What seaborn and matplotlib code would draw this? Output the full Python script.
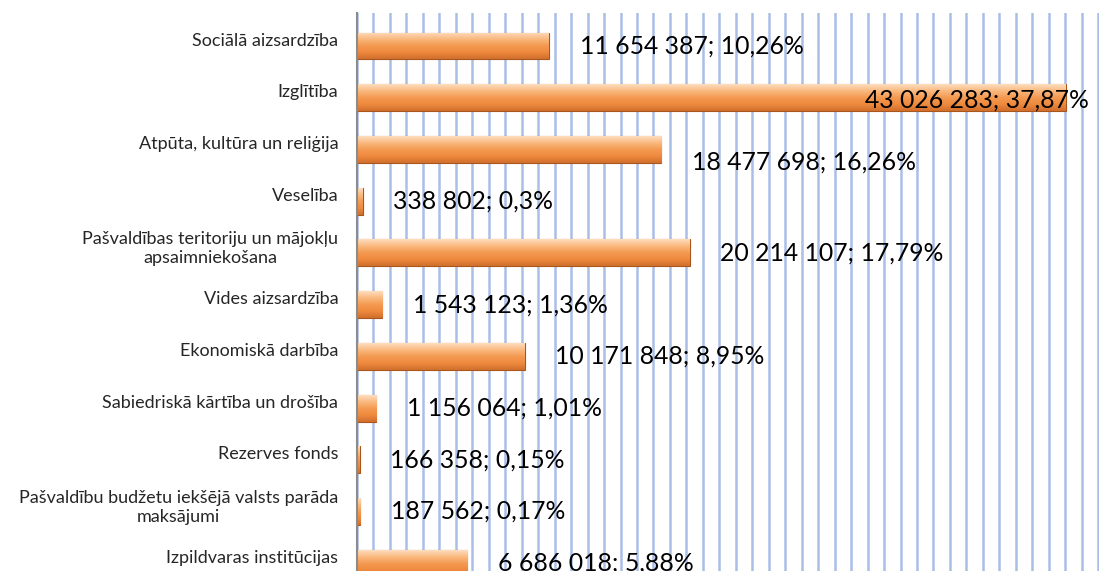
import matplotlib
matplotlib.use("Agg")
import matplotlib.pyplot as plt
import matplotlib.transforms as mtrans
import seaborn as sns
import numpy as np
import pandas as pd
from matplotlib.ticker import MultipleLocator
from matplotlib.colors import LinearSegmentedColormap

categories = [
    "Sociālā aizsardzība",
    "Izglītība",
    "Atpūta, kultūra un reliģija",
    "Veselība",
    "Pašvaldības teritoriju un mājokļu\napsaimniekošana",
    "Vides aizsardzība",
    "Ekonomiskā darbība",
    "Sabiedriskā kārtība un drošība",
    "Rezerves fonds",
    "Pašvaldību budžetu iekšējā valsts parāda\nmaksājumi",
    "Izpildvaras institūcijas",
]
values = [11654387, 43026283, 18477698, 338802, 20214107, 1543123,
          10171848, 1156064, 166358, 187562, 6686018]
percents = ["10,26", "37,87", "16,26", "0,3", "17,79", "1,36",
            "8,95", "1,01", "0,15", "0,17", "5,88"]

df = pd.DataFrame({"cat": categories, "val": values, "pct": percents})

sns.set_style("white")
plt.rcParams["font.family"] = ["Lato", "DejaVu Sans"]

fig = plt.figure(figsize=(11.10, 5.71), dpi=100)
ax = fig.add_axes([357 / 1110, 0.0, (1099 - 357) / 1110, 1 - 13 / 571])

sns.barplot(data=df, x="val", y="cat", orient="h", color="#F0903F",
            width=0.52, ax=ax, zorder=3, edgecolor="#A8561C", linewidth=0.8)

# bevel-like gradient on each bar
cmap = LinearSegmentedColormap.from_list(
    "bev", ["#FDDDBE", "#FAB97F", "#F49A52", "#EE8A3E", "#D06E2C"])
grad = np.linspace(0, 1, 64).reshape(-1, 1)
for p in ax.patches:
    x0, y0 = p.get_x(), p.get_y()
    w, h = p.get_width(), p.get_height()
    im = ax.imshow(grad, cmap=cmap, aspect="auto", zorder=3.5,
                   extent=(x0, x0 + w, y0 + h, y0), origin="upper")
    im.set_clip_path(p)

ax.set_xlim(0, 45.05e6)
ax.set_ylim(10.15, -0.638)

ax.xaxis.set_major_locator(MultipleLocator(1e6))
ax.grid(axis="x", color="#A9BFE6", linewidth=1.8, zorder=0)
ax.tick_params(axis="x", length=0, labelbottom=False)
ax.tick_params(axis="y", length=0, pad=13.5)
ax.set_xlabel("")
ax.set_ylabel("")
# category labels sit a little above the bar centres
shift = mtrans.ScaledTranslation(0, 7 / 100, fig.dpi_scale_trans)
for lab in ax.get_yticklabels():
    lab.set_fontsize(13)
    lab.set_multialignment("center")
    lab.set_transform(lab.get_transform() + shift)

for s in ["top", "right", "bottom"]:
    ax.spines[s].set_visible(False)
ax.spines["left"].set_color("#8C8C8C")
ax.spines["left"].set_linewidth(1.5)
ax.spines["left"].set_zorder(5)

dy = [0, -2, -9, 0, 0, 0, 0, 0, 0, 0, 0]
for i, (v, pc) in enumerate(zip(values, percents)):
    txt = f"{v:,}".replace(",", " ") + f"; {pc}%"
    if v > 40e6:
        ax.annotate(txt, (v, i), xytext=(17, dy[i]), textcoords="offset points",
                    ha="right", va="center", fontsize=17.8, color="black", zorder=6)
    else:
        ax.annotate(txt, (v, i), xytext=(22, dy[i]), textcoords="offset points",
                    ha="left", va="center", fontsize=17.8, color="black", zorder=6)

fig.savefig("out.png", dpi=100)
